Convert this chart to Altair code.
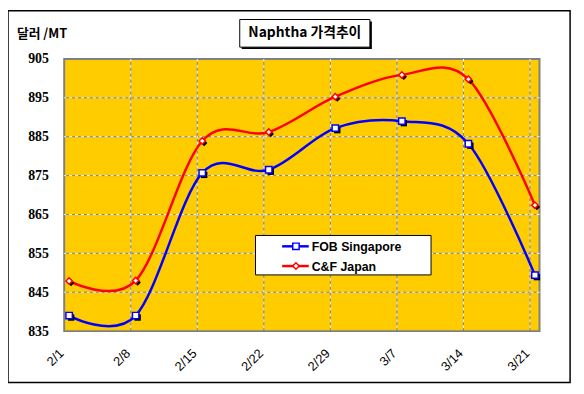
import altair as alt
import pandas as pd

# ---- data ----
dates = ["2/1", "2/8", "2/15", "2/22", "2/29", "3/7", "3/14", "3/21"]
fob_singapore = [839.0, 839.0, 875.7, 876.5, 887.2, 889.0, 883.2, 849.4]
cf_japan = [847.9, 848.0, 883.9, 886.2, 895.3, 900.9, 899.8, 867.4]
series_names = ["FOB Singapore", "C&F Japan"]
series_colors = ["#0000FF", "#FF0000"]
series_shapes = ["square", "diamond"]
y_ticks = [835, 845, 855, 865, 875, 885, 895, 905]
title_text = "Naphtha 가격추이"
unit_text = "달러 /MT"

days = [7 * i for i in range(len(dates))]

rows = []
for name, vals in zip(series_names, [fob_singapore, cf_japan]):
    for d, v in zip(days, vals):
        rows.append({"series": name, "day": d, "value": v})
df = pd.DataFrame(rows)

label_array = "[" + ",".join("'%s'" % d for d in dates) + "]"

xscale = alt.Scale(domain=[0, 50], nice=False, zero=False)
yscale = alt.Scale(domain=[835, 905], nice=False, zero=False)
cscale = alt.Scale(domain=series_names, range=series_colors)
sscale = alt.Scale(domain=series_names, range=series_shapes)

xaxis = alt.Axis(
    values=days, labelExpr=label_array + "[round(datum.value/7)]",
    labelAngle=-45, labelAlign="right", labelBaseline="middle",
    labelPadding=20, labelOffset=-3, labelFont="Liberation Sans", labelFontSize=13,
    labelColor="black", domain=False, ticks=False, grid=False, title=None)
yaxis = alt.Axis(
    values=y_ticks, labelFont="Liberation Serif", labelFontSize=14,
    labelFontWeight="bold", labelColor="black", labelPadding=16,
    domain=False, ticks=False, grid=False, title=None)

W, H = 482, 276

one = pd.DataFrame({"a": [0]})

# outer frame
frame = alt.Chart(one).mark_rect(
    fill="white", fillOpacity=0, stroke="black", strokeWidth=1.5
).encode(x=alt.value(-57), x2=alt.value(513), y=alt.value(-49), y2=alt.value(328))

# gridlines
hgrid_df = pd.DataFrame({"value": y_ticks[1:-1]})
vgrid_df = pd.DataFrame({"day": days[1:]})
hgrid_base = alt.Chart(hgrid_df).mark_rule(color="#808080", strokeWidth=1).encode(
    y=alt.Y("value:Q", scale=yscale, axis=yaxis))
hgrid_dash = alt.Chart(hgrid_df).mark_rule(color="white", strokeWidth=1, strokeDash=[3, 3]).encode(
    y=alt.Y("value:Q", scale=yscale, axis=yaxis))
vgrid_base = alt.Chart(vgrid_df).mark_rule(color="#808080", strokeWidth=1).encode(
    x=alt.X("day:Q", scale=xscale, axis=xaxis))
vgrid_dash = alt.Chart(vgrid_df).mark_rule(color="white", strokeWidth=1, strokeDash=[3, 3]).encode(
    x=alt.X("day:Q", scale=xscale, axis=xaxis))

base = alt.Chart(df).encode(
    x=alt.X("day:Q", scale=xscale, axis=xaxis),
    y=alt.Y("value:Q", scale=yscale, axis=yaxis),
)

lines = base.mark_line(interpolate="cardinal", tension=0, strokeWidth=2.5, xOffset=5).encode(
    color=alt.Color("series:N", scale=cscale, legend=None), detail="series:N")

shadows = base.mark_point(filled=True, color="black", size=42, opacity=1, xOffset=7, yOffset=2).encode(
    shape=alt.Shape("series:N", scale=sscale, legend=None))

markers = base.mark_point(filled=True, fill="white", size=42, opacity=1, strokeWidth=1.5, xOffset=5).encode(
    shape=alt.Shape("series:N", scale=sscale, legend=None),
    stroke=alt.Stroke("series:N", scale=cscale, legend=None))

# title box
title_shadow = alt.Chart(one).mark_rect(fill="black").encode(
    x=alt.value(180), x2=alt.value(312), y=alt.value(-38), y2=alt.value(-10))
title_box = alt.Chart(one).mark_rect(fill="white", stroke="black", strokeWidth=1).encode(
    x=alt.value(178), x2=alt.value(310), y=alt.value(-40), y2=alt.value(-12))
title = alt.Chart(one).mark_text(
    text=title_text, font="Noto Sans CJK KR", fontSize=14, fontWeight="bold",
    align="center", baseline="middle", color="black"
).encode(x=alt.value(244), y=alt.value(-26))

unit = alt.Chart(one).mark_text(
    text=unit_text, font="Noto Sans CJK KR", fontSize=13, fontWeight="bold",
    align="left", baseline="middle", color="black"
).encode(x=alt.value(-48), y=alt.value(-25))

# legend
legend_layers = [alt.Chart(one).mark_rect(fill="white", stroke="black", strokeWidth=1).encode(
    x=alt.value(194), x2=alt.value(372), y=alt.value(179), y2=alt.value(219))]
for i, (name, col, shp) in enumerate(zip(series_names, series_colors, series_shapes)):
    yy = 190 + 20 * i
    legend_layers.append(alt.Chart(one).mark_rule(color=col, strokeWidth=2.5).encode(
        x=alt.value(221), x2=alt.value(248), y=alt.value(yy)))
    legend_layers.append(alt.Chart(one).mark_point(
        shape=shp, filled=True, fill="white", stroke=col, strokeWidth=1.5, size=42, opacity=1
    ).encode(x=alt.value(235), y=alt.value(yy)))
    legend_layers.append(alt.Chart(one).mark_text(
        text=name, font="Liberation Sans", fontSize=12.5, fontWeight="bold",
        align="left", baseline="middle", color="black"
    ).encode(x=alt.value(251), y=alt.value(yy + 1)))

chart = alt.layer(
    frame, hgrid_base, hgrid_dash, vgrid_base, vgrid_dash,
    lines, shadows, markers,
    title_shadow, title_box, title, unit, *legend_layers
).properties(
    width=W, height=H,
    padding={"left": 57, "top": 49, "right": 37, "bottom": 55},
    autosize=alt.AutoSizeParams(type="none"),
    background="white",
).configure_view(fill="#FFCC00", stroke="#808080", strokeWidth=2)

chart.save("out.html", embed_options={"renderer": "svg", "actions": False})
